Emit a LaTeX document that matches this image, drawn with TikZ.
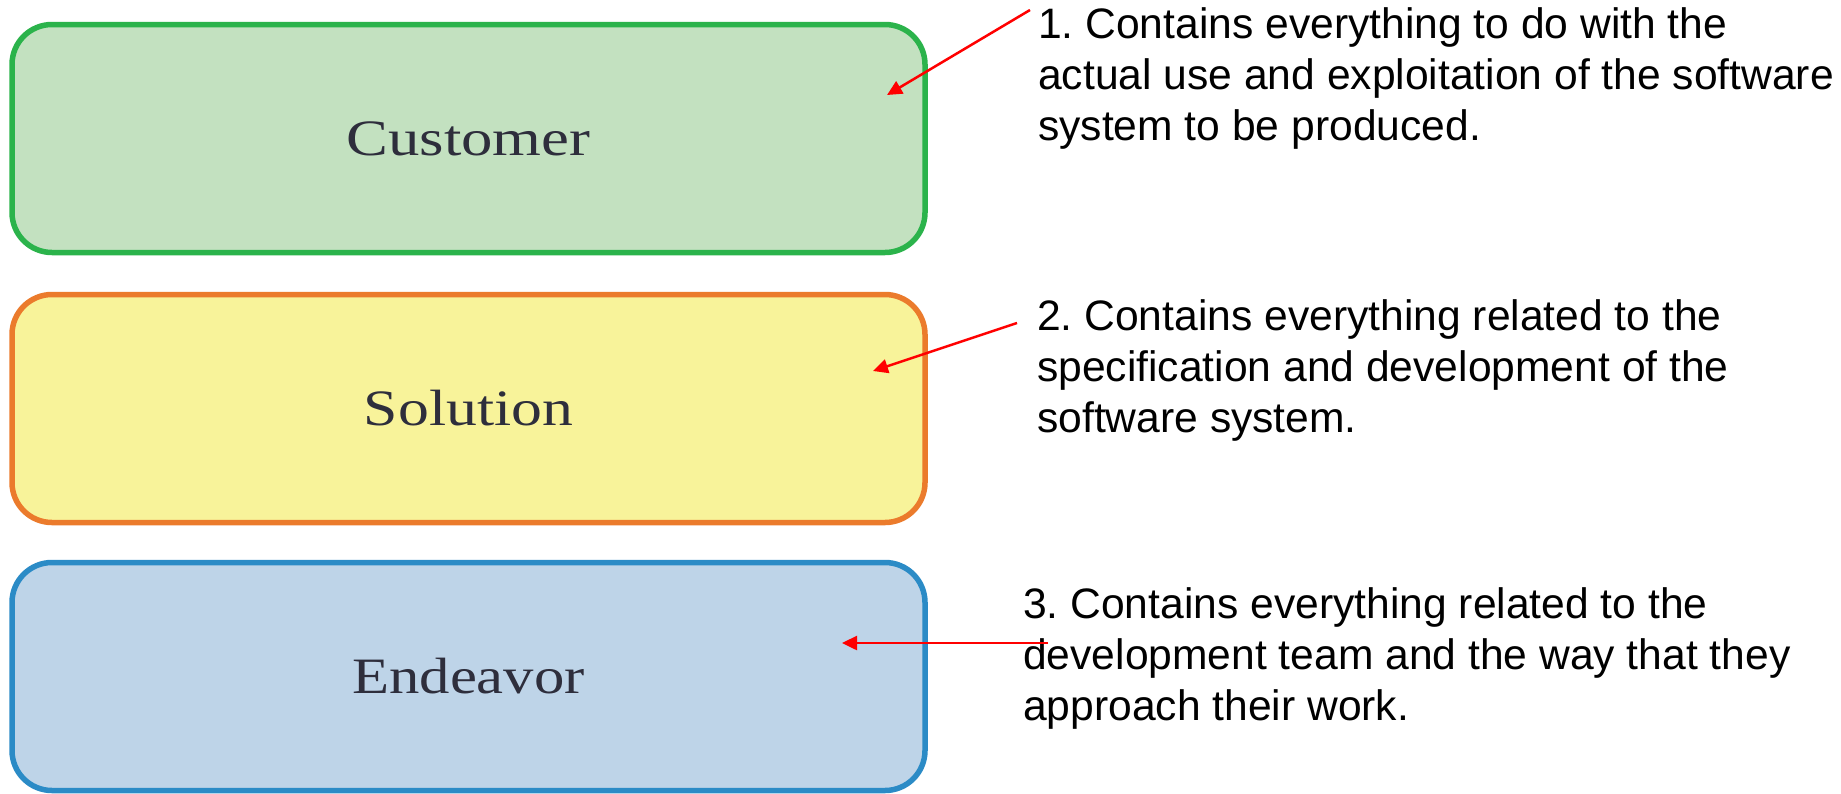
\documentclass[tikz,border=0pt]{standalone}
\usepackage{fontspec}
\setmainfont{Liberation Sans}
\newfontfamily\boxfont{Liberation Serif}
\usetikzlibrary{arrows.meta}
\frenchspacing
\definecolor{custfill}{HTML}{C3E1C0}
\definecolor{custline}{HTML}{2BB34B}
\definecolor{solfill}{HTML}{F8F39A}
\definecolor{solline}{HTML}{EB7B2C}
\definecolor{endfill}{HTML}{BED4E8}
\definecolor{endline}{HTML}{2B8BC6}
\definecolor{boxtext}{HTML}{2E2E3C}
\tikzset{
  areabox/.style={draw, line width=5.5pt, rounded corners=40pt,
    minimum width=913pt, minimum height=228pt, inner sep=0pt,
    text=boxtext, font=\boxfont\fontsize{51}{60}\selectfont},
  note/.style={anchor=base west, align=left, inner sep=0pt,
    font=\fontsize{42.6}{51}\selectfont},
  pointer/.style={draw=red, line width=2.5pt,
    -{Triangle[length=15pt,width=14pt]}}
}
\begin{document}
\begin{tikzpicture}[x=1pt,y=-1pt]
  \useasboundingbox (0,0) rectangle (1841,793);

  % the three areas
  \node[areabox, draw=custline, fill=custfill] (cust) at (468.5,138.5)
    {\scalebox{1.23}[1]{Customer}};
  \node[areabox, draw=solline, fill=solfill] (sol) at (468.5,408.5)
    {\scalebox{1.21}[1]{Solution}};
  \node[areabox, draw=endline, fill=endfill] (endv) at (468.5,676.5)
    {\scalebox{1.19}[1]{Endeavor}};

  % descriptions (anchored on the baseline of their last line)
  \node[note] (n1) at (1038,140) {1. Contains everything to do with the\\
    actual use and exploitation of the software\\ system to be produced.};
  \node[note] (n2) at (1037,432) {2. Contains everything related to the\\
    specification and development of the\\ software system.};
  \node[note] (n3) at (1023,720) {3. Contains everything related to the\\
    development team and the way that they\\ approach their work.};

  % arrow ends
  \coordinate (s1) at (1030,10);
  \coordinate (t1) at (887,95);
  \coordinate (s2) at (1017,323);
  \coordinate (t2) at (873,371);
  \coordinate (s3) at (1048,643);
  \coordinate (t3) at (842,643);

  \draw[pointer] (s1) -- (t1);
  \draw[pointer] (s2) -- (t2);
  \draw[pointer] (s3) -- (t3);
\end{tikzpicture}
\end{document}
